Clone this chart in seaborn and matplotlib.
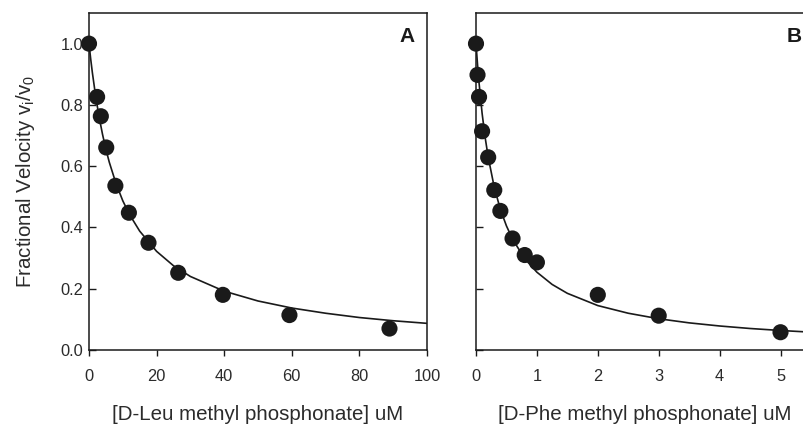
import matplotlib
matplotlib.use("Agg")
import matplotlib.pyplot as plt
import seaborn as sns
import pandas as pd

# Panel A data: D-Leu methyl phosphonate (uM) vs fractional velocity
leu_conc = [0, 2.4, 3.5, 5.1, 7.8, 11.8, 17.6, 26.4, 39.6, 59.3, 88.9]
leu_vel = [1.0, 0.826, 0.763, 0.661, 0.536, 0.448, 0.350, 0.252, 0.180, 0.114, 0.070]
# Fitted curve A
leu_fit_x = [0, 0.5, 1, 2, 3, 4, 5, 6, 8, 10, 12, 15, 20, 25, 30, 40, 50, 60, 70, 80, 90, 100]
leu_fit_y = [1.0, 0.950, 0.905, 0.826, 0.760, 0.704, 0.655, 0.613, 0.543, 0.487, 0.442,
             0.388, 0.322, 0.275, 0.240, 0.192, 0.160, 0.137, 0.120, 0.106, 0.0955, 0.087]

# Panel B data: D-Phe methyl phosphonate (uM)
phe_conc = [0, 0.025, 0.05, 0.1, 0.2, 0.3, 0.4, 0.6, 0.8, 1.0, 2.0, 3.0, 5.0]
phe_vel = [1.0, 0.898, 0.826, 0.714, 0.629, 0.522, 0.454, 0.364, 0.310, 0.286, 0.180, 0.112, 0.058]
phe_fit_x = [0, 0.025, 0.05, 0.1, 0.15, 0.2, 0.3, 0.4, 0.5, 0.6, 0.8, 1.0, 1.25, 1.5, 2.0,
             2.5, 3.0, 3.5, 4.0, 4.5, 5.0, 5.5]
phe_fit_y = [1.0, 0.932, 0.872, 0.773, 0.694, 0.630, 0.531, 0.459, 0.405, 0.362, 0.298, 0.254,
             0.214, 0.185, 0.145, 0.120, 0.102, 0.0886, 0.0784, 0.0702, 0.0637, 0.0582]

x_ticks_a = [0, 20, 40, 60, 80, 100]
x_ticks_b = [0, 1, 2, 3, 4, 5]
y_ticks = [0.0, 0.2, 0.4, 0.6, 0.8, 1.0]
y_tick_labels = ["0.0", "0.2", "0.4", "0.6", "0.8", "1.0"]

sns.set_style("ticks")
plt.rcParams["font.family"] = ["Liberation Sans", "DejaVu Sans"]
plt.rcParams["mathtext.default"] = "regular"

ink = "#1a1a1a"
text_col = "#2b2b2b"

fig = plt.figure(figsize=(8.04, 4.24), dpi=100)
axA = fig.add_axes([89 / 804, 74 / 424, 338 / 804, 337 / 424])
axB = fig.add_axes([476 / 804, 74 / 424, 338 / 804, 337 / 424])

def style(ax, xticks, xlim, letter, xlabel, ylab):
    sns.despine(ax=ax, top=False, right=False)
    for s in ax.spines.values():
        s.set_linewidth(1.1)
        s.set_color(ink)
    ax.set_xlim(*xlim)
    ax.set_ylim(0, 1.1)
    ax.set_xticks(xticks)
    ax.set_yticks(y_ticks)
    ax.tick_params(axis="x", direction="out", length=4, width=1.0, color=ink,
                   labelsize=11.8, labelcolor=text_col, pad=10)
    ax.tick_params(axis="y", direction="in", length=5, width=1.0, color=ink,
                   labelsize=11.8, labelcolor=text_col, pad=4)
    ax.set_xlabel(xlabel, fontsize=14.8, color=text_col, labelpad=15)
    if ylab:
        ax.set_yticklabels(y_tick_labels)
        ax.set_ylabel("Fractional Velocity v$_i$/v$_0$", fontsize=14.8, color=text_col,
                      labelpad=17)
    else:
        ax.set_yticklabels([])
        ax.set_ylabel("")
    ax.text(0.941, 0.914, letter, transform=ax.transAxes, fontsize=15, fontweight="bold",
            color=ink, ha="center", va="baseline")

sns.lineplot(x=leu_fit_x, y=leu_fit_y, ax=axA, color=ink, linewidth=1.2, sort=False)
sns.scatterplot(x=leu_conc, y=leu_vel, ax=axA, color=ink, s=135, edgecolor="none",
                clip_on=False, zorder=5)
style(axA, x_ticks_a, (0, 100), "A", "[D-Leu methyl phosphonate] uM", True)

sns.lineplot(x=phe_fit_x, y=phe_fit_y, ax=axB, color=ink, linewidth=1.2, sort=False)
sns.scatterplot(x=phe_conc, y=phe_vel, ax=axB, color=ink, s=135, edgecolor="none",
                clip_on=False, zorder=5)
style(axB, x_ticks_b, (0, 5.55), "B", "[D-Phe methyl phosphonate] uM", False)

fig.savefig("out.png", dpi=100)
